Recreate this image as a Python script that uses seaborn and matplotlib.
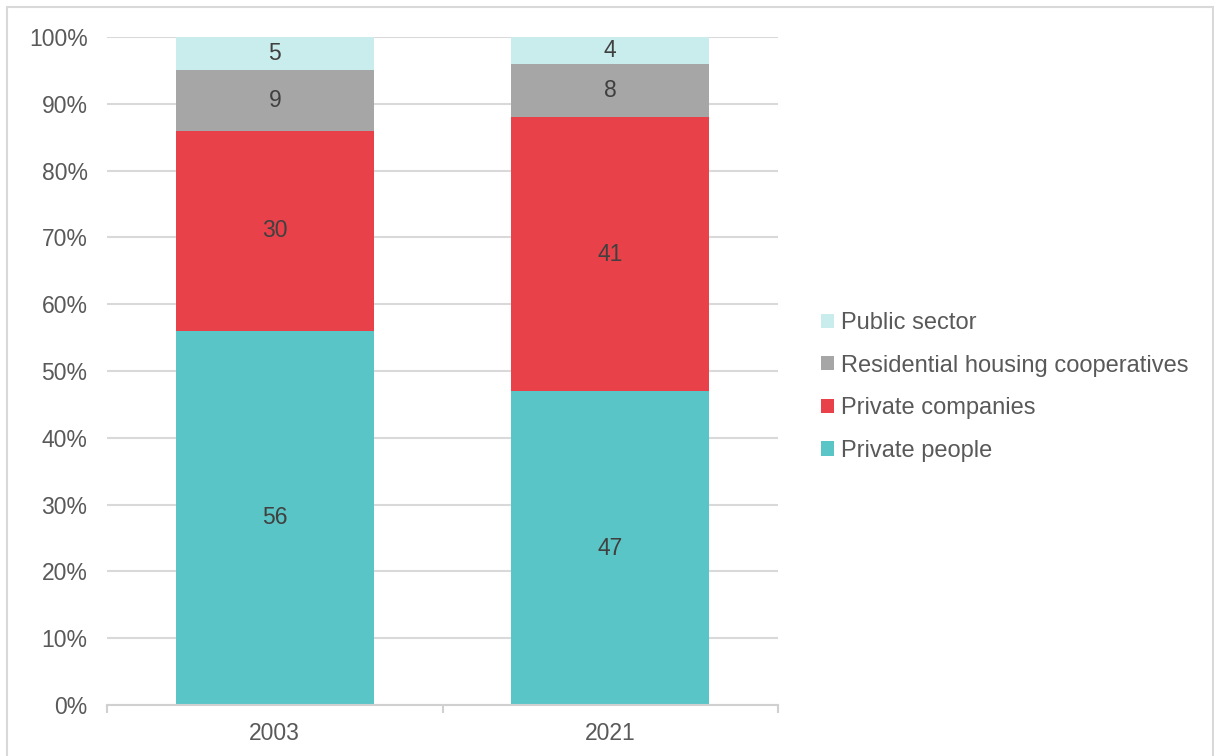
import numpy as np
import pandas as pd
import matplotlib
matplotlib.use("Agg")
import matplotlib.pyplot as plt
import seaborn as sns
from matplotlib.patches import Rectangle, Patch

# Ownership shares (%) by year
years = ["2003", "2021"]
private_people = [56, 47]
private_companies = [30, 41]
housing_coops = [9, 8]
public_sector = [5, 4]

series_names = ["Private people", "Private companies",
                "Residential housing cooperatives", "Public sector"]
series_values = [private_people, private_companies, housing_coops, public_sector]
series_colors = ["#5AC5C6", "#E8414A", "#A6A6A6", "#C9ECEC"]

sns.set_theme(style="white")
plt.rcParams["font.family"] = ["Liberation Sans", "DejaVu Sans"]

fig = plt.figure(figsize=(12.14, 7.56), dpi=100)
ax = fig.add_axes([107 / 1214, 1 - 705 / 756, (778 - 107) / 1214, (705 - 37) / 756])

# Cumulative tops for the stacked segments
rows = []
for name, vals in zip(series_names, series_values):
    for y, v in zip(years, vals):
        rows.append({"year": y, "series": name, "value": v})
df = pd.DataFrame(rows)
df["top"] = df.groupby("year")["value"].cumsum()
df["bottom"] = df["top"] - df["value"]

# Draw from the tallest cumulative layer downward so lower layers sit on top
for name, color in reversed(list(zip(series_names, series_colors))):
    sub = df[df["series"] == name]
    sns.barplot(data=sub, x="year", y="top", order=years, color=color,
                width=0.59, saturation=1, ax=ax, edgecolor="none",
                linewidth=0)

# Value labels centred in each segment
for _, r in df.iterrows():
    xi = years.index(r["year"])
    ax.text(xi, (r["top"] + r["bottom"]) / 2, f"{r['value']:d}",
            ha="center", va="center", fontsize=16.5, color="#404040")

ax.set_xlim(-0.5, 1.5)
ax.set_ylim(0, 100)
ax.set_yticks(np.arange(0, 101, 10))
ax.set_yticklabels([f"{v}%" for v in range(0, 101, 10)])
ax.yaxis.grid(True, color="#D9D9D9", linewidth=1.5)
ax.set_axisbelow(True)
ax.set_xlabel("")
ax.set_ylabel("")

for side in ["top", "right", "left"]:
    ax.spines[side].set_visible(False)
ax.spines["bottom"].set_color("#D0D0D0")
ax.spines["bottom"].set_linewidth(1.5)

# Category separator ticks on the x axis
ax.set_xticks([0, 1])
ax.set_xticks([-0.5, 0.5, 1.5], minor=True)
ax.tick_params(axis="x", which="major", bottom=False, length=0, pad=12,
               labelsize=16.5, labelcolor="#595959")
ax.tick_params(axis="x", which="minor", bottom=True, length=6, width=1.5,
               color="#D0D0D0", direction="out")
ax.tick_params(axis="y", length=0, pad=14, labelsize=16.5, labelcolor="#595959")

# Legend, top entry first
handles = [Patch(facecolor=c, edgecolor="none") for c in reversed(series_colors)]
labels = list(reversed(series_names))
fig.legend(handles, labels, loc="center left",
           bbox_to_anchor=(809 / 1214, 1 - 387 / 756),
           frameon=False, fontsize=17, labelcolor="#595959",
           handlelength=0.55, handleheight=0.55, handletextpad=0.3,
           labelspacing=0.87, borderpad=0)

# Thin chart-area border
fig.patches.append(Rectangle((7 / 1214, -0.05), 1206 / 1214, 1.05 - 7 / 756,
                             transform=fig.transFigure, fill=False,
                             edgecolor="#D9D9D9", linewidth=1.5))

fig.savefig("out.png", dpi=100)
